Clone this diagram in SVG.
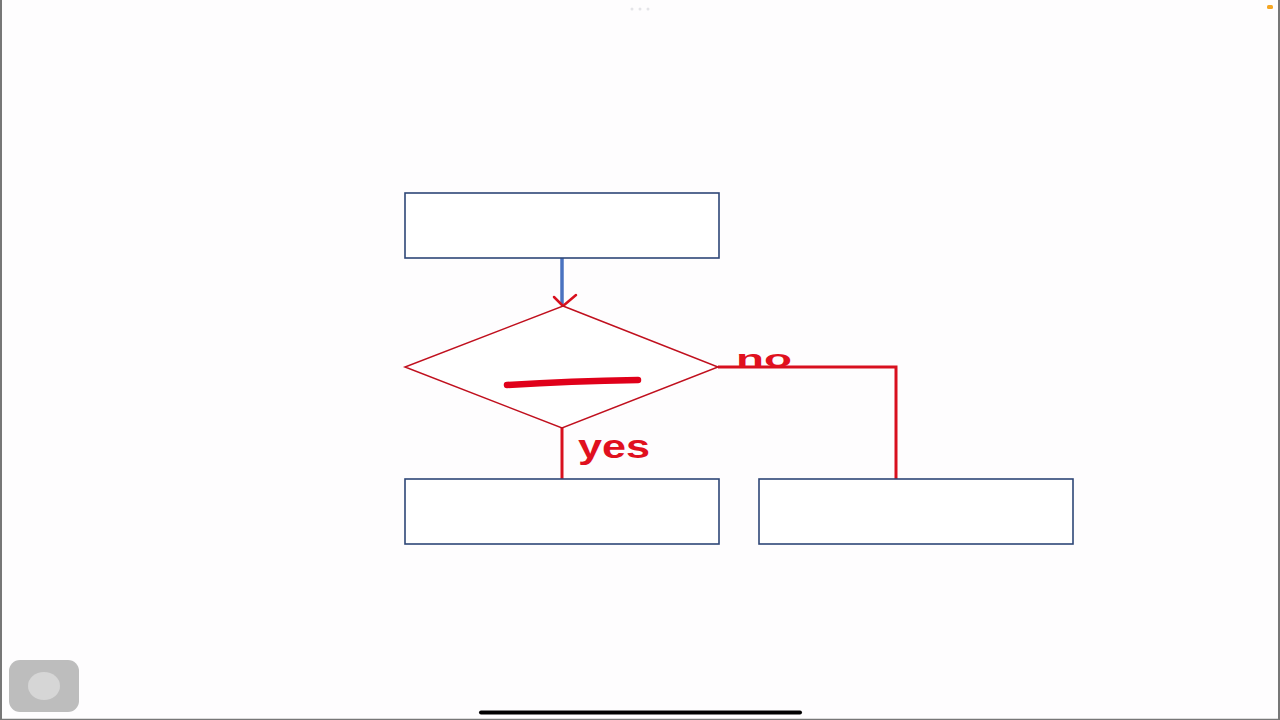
<svg xmlns="http://www.w3.org/2000/svg" width="1280" height="720" viewBox="0 0 1280 720">
  <style>
    .box { fill: #ffffff; stroke: #2e4677; stroke-width: 1.6; }
    .dec { fill: #ffffff; stroke: #c0101e; stroke-width: 1.5; }
    .red { fill: none; stroke: #d8101e; stroke-width: 3; }
    .hand { fill: #e0101e; font-family: "Liberation Sans", sans-serif; font-weight: bold; }
  </style>
  <rect x="0" y="0" width="1280" height="720" fill="#fefdfe"/>
  <line x1="1" y1="0" x2="1" y2="720" stroke="#777" stroke-width="2"/>
  <line x1="1279" y1="0" x2="1279" y2="720" stroke="#777" stroke-width="2"/>
  <line x1="0" y1="719.5" x2="1280" y2="719.5" stroke="#777" stroke-width="1.5"/>

  <g id="connectors">
    <line x1="562" y1="258" x2="562" y2="304" stroke="#4a72c0" stroke-width="3.5"/>
    <polyline points="554,297 563,306 576,295" fill="none" stroke="#d8101e" stroke-width="2.5" stroke-linecap="round" stroke-linejoin="round"/>
    <line class="red" x1="562" y1="428" x2="562" y2="479"/>
    <polyline class="red" points="718,367 896,367 896,479"/>
  </g>

  <g id="start">
    <rect class="box" x="405" y="193" width="314" height="65"/>
  </g>
  <g id="decision">
    <polygon class="dec" points="563,306 718,367 562,428 405,367"/>
    <path d="M507,385 Q570,381 638,380" fill="none" stroke="#e0001a" stroke-width="6.5" stroke-linecap="round"/>
  </g>
  <g id="yes-box">
    <rect class="box" x="405" y="479" width="314" height="65"/>
  </g>
  <g id="no-box">
    <rect class="box" x="759" y="479" width="314" height="65"/>
  </g>

  <g id="labels">
    <text class="hand" x="578" y="458" font-size="34" textLength="72" lengthAdjust="spacingAndGlyphs">yes</text>
    <text class="hand" x="736" y="367" font-size="24" textLength="56" lengthAdjust="spacingAndGlyphs">no</text>
  </g>

  <g id="ui">
    <rect x="9" y="660" width="70" height="52" rx="11" fill="#bdbdbd"/>
    <ellipse cx="44" cy="686" rx="16" ry="14" fill="#d6d6d6"/>
    <line x1="481" y1="712.5" x2="800" y2="712.5" stroke="#000" stroke-width="4" stroke-linecap="round"/>
    <circle cx="632" cy="9" r="1.5" fill="#e4e4e8"/>
    <circle cx="640" cy="9" r="1.5" fill="#e4e4e8"/>
    <circle cx="648" cy="9" r="1.5" fill="#e4e4e8"/>
    <rect x="1267" y="5" width="6" height="4" rx="1.5" fill="#f5a623"/>
  </g>
</svg>
